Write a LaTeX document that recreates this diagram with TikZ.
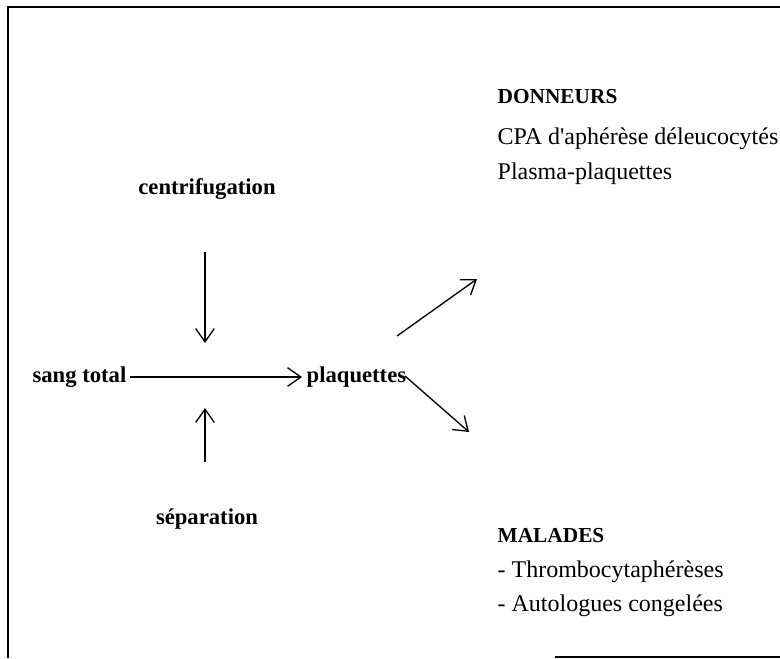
\documentclass[tikz,border=0pt]{standalone}
\usepackage{fontspec}
\setmainfont{Liberation Serif}
\usetikzlibrary{positioning, arrows.meta}

\begin{document}
\begin{tikzpicture}[x=0.75pt, y=-0.75pt, line width=1pt,
    >={Straight Barb[length=10pt,width=14pt]}, node distance=9pt,
    lbl/.style={font=\fontsize{17}{20}\selectfont\bfseries, inner sep=0pt, text height=12pt, text depth=4pt},
    head/.style={lbl, font=\fontsize{16}{20}\selectfont\bfseries, anchor=west},
    item/.style={font=\fontsize{18}{20}\selectfont, inner sep=0pt, text height=12pt, text depth=4pt}]
    \useasboundingbox (0,0) rectangle (780,658);
    \draw (780,7) -- (8,7) -- (8,658);
    \draw (555,657) -- (780,657);

    \node[lbl] (centri) at (207,189) {centrifugation};
    \node[lbl, anchor=east] (sang) at (127,377) {sang total};
    \node[lbl, anchor=west] (plaq) at (306,377) {plaquettes};
    \node[lbl] (separ) at (207,519) {séparation};

    \node[head] (donneurs) at (497,98) {DONNEURS};
    \node[item, below=14pt of donneurs.south west, anchor=north west] (cpa) {CPA d\textquotesingle aphérèse déleucocytés};
    \node[item, below=of cpa.south west, anchor=north west] (plasma) {Plasma-plaquettes};

    \node[head] (malades) at (497,537) {MALADES};
    \node[item, below=of malades.south west, anchor=north west] (thrombo) {- Thrombocytaphérèses};
    \node[item, below=of thrombo.south west, anchor=north west] (autol) {- Autologues congelées};

    \coordinate (c1) at (205,252);
    \coordinate (c2) at (205,343);
    \coordinate (s1) at (205,462);
    \coordinate (s2) at (205,408);
    \coordinate (p1) at (397,336);
    \coordinate (p2) at (405,376);
    \coordinate (don) at (477,279);
    \coordinate (mal) at (469,432);

    \draw[->] (c1) -- (c2);
    \draw[->] (s1) -- (s2);
    \draw[->, shorten <=2pt, shorten >=3pt] (sang) -- (plaq);
    \draw[->] (p1) -- (don);
    \draw[->] (p2) -- (mal);
\end{tikzpicture}
\end{document}
